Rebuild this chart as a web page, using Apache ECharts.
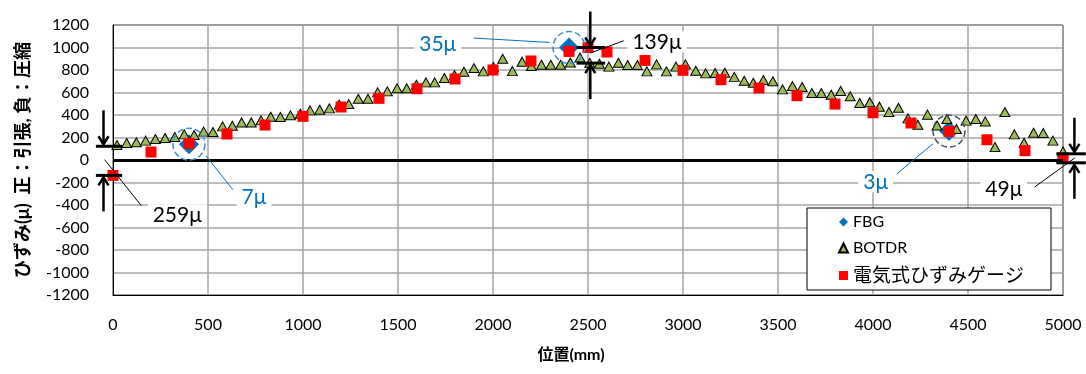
<!DOCTYPE html>
<html>
<head>
<meta charset="utf-8">
<script src="https://cdn.jsdelivr.net/npm/echarts@6/dist/echarts.min.js"></script>
<style>
html,body{margin:0;padding:0;background:#fff;}
#chart{width:1086px;height:374px;}
</style>
</head>
<body>
<div id="chart"></div>
<script>
// ---------- data ----------
const xTicks = [0, 500, 1000, 1500, 2000, 2500, 3000, 3500, 4000, 4500, 5000];
const yTicks = [-1200, -1000, -800, -600, -400, -200, 0, 200, 400, 600, 800, 1000, 1200];

const seriesNames = ['FBG', 'BOTDR', '電気式ひずみゲージ'];

const fbgX = [400, 2400, 4400];
const fbgY = [141, 1000, 257];

const botdrX = [21, 72, 123, 172, 223, 274, 325, 375, 427, 477,
  526, 577, 628, 677, 728, 779, 830, 881, 934, 986,
  1037, 1088, 1139, 1191, 1241, 1291, 1342, 1393, 1444, 1495,
  1546, 1597, 1647, 1693, 1744, 1797, 1847, 1900, 1949, 2002,
  2051, 2102, 2153, 2202, 2255, 2304, 2356, 2407, 2458, 2509,
  2560, 2610, 2660, 2709, 2760, 2810, 2861, 2913, 2963, 3013,
  3067, 3119, 3169, 3220, 3270, 3322, 3370, 3423, 3473, 3524,
  3576, 3627, 3678, 3728, 3780, 3830, 3880, 3930, 3983, 4034,
  4084, 4134, 4184, 4236, 4287, 4337, 4389, 4439, 4490, 4541,
  4591, 4642, 4694, 4744, 4795, 4845, 4896, 4947, 5000];
const botdrY = [133, 151, 157, 172, 187, 195, 204, 228, 222, 252,
  249, 299, 305, 334, 334, 352, 385, 382, 397, 411,
  441, 447, 459, 492, 497, 545, 545, 601, 610, 637,
  637, 669, 690, 690, 729, 755, 785, 817, 788, 826,
  900, 790, 874, 836, 846, 846, 846, 866, 911, 865,
  855, 830, 865, 844, 844, 788, 850, 788, 830, 850,
  793, 770, 773, 776, 739, 704, 687, 711, 700, 628,
  657, 649, 596, 596, 580, 614, 566, 507, 514, 474,
  427, 465, 370, 314, 403, 306, 364, 276, 350, 365,
  343, 116, 427, 228, 153, 242, 240, 172, 75];

const gaugeX = [0, 200, 400, 600, 800, 1000, 1200, 1400, 1600, 1800, 2000, 2200, 2400, 2500,
  2600, 2800, 3000, 3200, 3400, 3600, 3800, 4000, 4200, 4400, 4600, 4800, 5000];
const gaugeY = [-137, 71, 148, 231, 311, 388, 471, 548, 634, 720, 800, 880, 965, 1000,
  960, 885, 797, 714, 640, 572, 497, 420, 329, 254, 180, 83, 18];

// difference markers (data coordinates)
const diffAt = [0, 2500, 5000];
const diffUpper = [122, 1000, 55];
const diffLower = [-137, 861, -25];
const diffBarFrom = [-90, 2440, 4965];
const diffBarTo = [48, 2590, 5120];
const diffArrowX = [-50, 2512, 5060];

// difference labels (data coordinates)
const noteText = ['35μ', '139μ', '7μ', '259μ', '3μ', '49μ'];
const noteAt = [[1709, 1025], [2863, 1051], [742, -328], [338, -487], [4014, -194], [4688, -263]];
const noteLeaderFrom = [[1898, 1084], [2512, 951], [489, 38], [-44, 3], [4316, 145], [4851, -240]];
const noteLeaderTo = [[2298, 1045], [2688, 1060], [631, -264], [149, -406], [4126, -122], [5062, 18]];
const noteBlue = [true, false, true, false, true, false];

const circleColors = ['#3A8FD6', '#3A8FD6', '#44546A'];

// ---------- chart ----------
const FONT = "Lato, 'Noto Sans CJK JP', sans-serif";
const chart = echarts.init(document.getElementById('chart'), null, {renderer: 'canvas'});

const option = {
  animation: false,
  backgroundColor: '#fff',
  textStyle: {fontFamily: FONT, color: '#000'},
  grid: {left: 113, top: 25, width: 950, height: 270, show: true, borderColor: '#000', borderWidth: 1, backgroundColor: 'transparent'},
  legend: {
    orient: 'vertical', left: 807, top: 208,
    padding: [6, 27, 5, 31],
    backgroundColor: '#fff', borderColor: '#000', borderWidth: 1,
    itemWidth: 9, itemHeight: 9, itemGap: 10,
    textStyle: {fontFamily: FONT, fontSize: 16, color: '#000', lineHeight: 14},
    data: [
      {name: seriesNames[0], icon: 'diamond'},
      {name: seriesNames[1], icon: 'triangle'},
      {name: seriesNames[2], icon: 'rect', textStyle: {fontSize: 19}}
    ]
  },
  xAxis: {
    type: 'value', min: xTicks[0], max: xTicks[xTicks.length - 1], interval: 500,
    name: '位置(mm)', nameLocation: 'middle', nameGap: 52,
    nameTextStyle: {fontFamily: FONT, fontSize: 16, fontWeight: 'bold', color: '#000', padding: [0, 34, 0, 0]},
    axisLine: {show: true, onZero: false, lineStyle: {color: '#000', width: 1}},
    axisTick: {show: false},
    axisLabel: {fontFamily: FONT, fontSize: 16, color: '#000', margin: 22, formatter: v => String(v)},
    splitLine: {show: true, lineStyle: {color: '#A6A6A6', width: 1.5}}
  },
  yAxis: {
    type: 'value', min: yTicks[0], max: yTicks[yTicks.length - 1], interval: 200,
    name: 'ひずみ(μ)  正：引張, 負：圧縮', nameLocation: 'middle', nameGap: 81, nameRotate: 90,
    nameTextStyle: {fontFamily: FONT, fontSize: 18, fontWeight: 'bold', color: '#000'},
    axisLine: {show: true, lineStyle: {color: '#000', width: 1}},
    axisTick: {show: false},
    axisLabel: {fontFamily: FONT, fontSize: 16, color: '#000', margin: 24, formatter: v => String(v)},
    splitLine: {show: true, lineStyle: {color: '#A6A6A6', width: 1.5}}
  },
  series: [
    {
      name: seriesNames[0], type: 'scatter', symbol: 'diamond', symbolSize: 20,
      itemStyle: {color: '#0070C0', opacity: 1},
      data: fbgX.map((x, i) => [x, fbgY[i]]), z: 2
    },
    {
      name: seriesNames[1], type: 'scatter', symbol: 'triangle', symbolSize: [10, 9],
      itemStyle: {color: '#9BBB59', borderColor: '#000', borderWidth: 1, opacity: 1},
      data: botdrX.map((x, i) => [x, botdrY[i]]), z: 3,
      markLine: {
        silent: true, symbol: ['none', 'none'], label: {show: false},
        lineStyle: {color: '#000', width: 3, type: 'solid', opacity: 1},
        data: [{yAxis: 0}]
      }
    },
    {
      name: seriesNames[2], type: 'scatter', symbol: 'rect', symbolSize: 11,
      itemStyle: {color: '#FF0000', opacity: 1},
      data: gaugeX.map((x, i) => [x, gaugeY[i]]), z: 4
    },
    {
      name: 'circles', type: 'scatter', symbol: 'circle', symbolSize: 32, silent: true,
      itemStyle: {color: 'rgba(0,0,0,0)', borderWidth: 1.5, borderType: 'dashed', opacity: 1},
      data: fbgX.map((x, i) => ({value: [x, fbgY[i]], itemStyle: {borderColor: circleColors[i]}})), z: 5
    }
  ]
};
chart.setOption(option);

// ---------- annotations, placed through the chart's own scales ----------
function px(x, y) { return chart.convertToPixel({gridIndex: 0}, [x, y]); }
const ARROW_LEN = 34, HEAD_W = 5, HEAD_L = 8;
const g = [];
function line(a, b, color, w) {
  g.push({type: 'line', z: 100, shape: {x1: a[0], y1: a[1], x2: b[0], y2: b[1]}, style: {stroke: color, lineWidth: w}});
}
function arrow(x, yFrom, yTo) {
  const dir = yTo > yFrom ? 1 : -1;
  line([x, yFrom], [x, yTo], '#000', 2.5);
  g.push({type: 'polyline', z: 100, shape: {points: [[x - HEAD_W, yTo - dir * HEAD_L], [x, yTo], [x + HEAD_W, yTo - dir * HEAD_L]]}, style: {stroke: '#000', lineWidth: 2.5, fill: null}});
}
diffAt.forEach((_, i) => {
  line(px(diffBarFrom[i], diffUpper[i]), px(diffBarTo[i], diffUpper[i]), '#000', 3);
  line(px(diffBarFrom[i], diffLower[i]), px(diffBarTo[i], diffLower[i]), '#000', 3);
  const up = px(diffArrowX[i], diffUpper[i]);
  arrow(up[0], up[1] - 2 - ARROW_LEN, up[1] - 2);
  const lo = px(diffArrowX[i], diffLower[i]);
  arrow(lo[0], lo[1] + 2 + ARROW_LEN, lo[1] + 2);
});
noteText.forEach((t, i) => {
  const col = noteBlue[i] ? '#0070C0' : '#000';
  const p = px(noteAt[i][0], noteAt[i][1]);
  g.push({type: 'text', z: 101, x: p[0], y: p[1], style: {text: t, fill: col, font: '21px ' + FONT, align: 'center', verticalAlign: 'middle', backgroundColor: '#fff', padding: [0, 5]}});
  line(px(noteLeaderFrom[i][0], noteLeaderFrom[i][1]), px(noteLeaderTo[i][0], noteLeaderTo[i][1]), col, 1);
});
chart.setOption({graphic: {elements: g}});
</script>
</body>
</html>
